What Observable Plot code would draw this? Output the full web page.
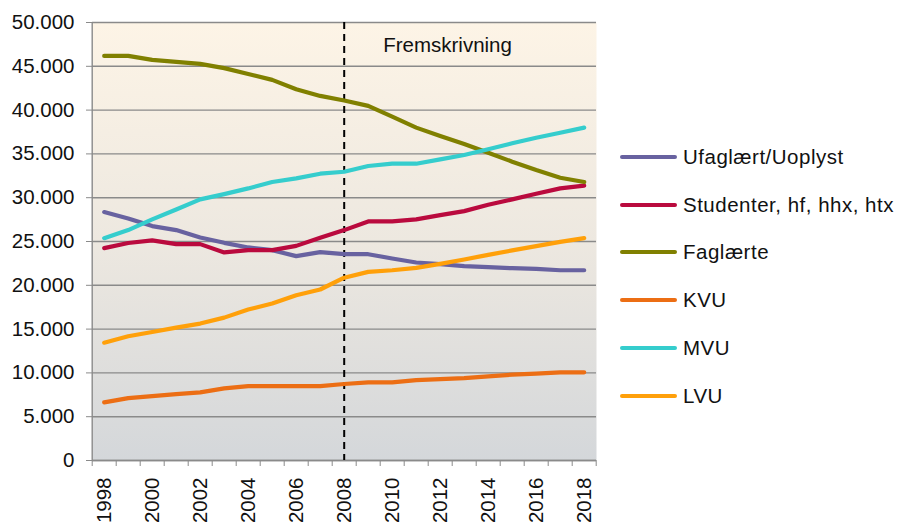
<!DOCTYPE html>
<html>
<head>
<meta charset="utf-8">
<script src="https://cdn.jsdelivr.net/npm/d3@7"></script>
<script src="https://cdn.jsdelivr.net/npm/@observablehq/plot@0.6"></script>
<style>
  html, body { margin: 0; padding: 0; background: #fff; }
  #wrap { position: relative; width: 899px; height: 522px; font-family: "Liberation Sans", Arial, sans-serif; }
  #chart { position: absolute; left: 0; top: 0; }
  #legend { position: absolute; left: 620px; top: 133px; }
  .item { display: flex; align-items: center; height: 47.8px; font-size: 20.5px; color: #111; letter-spacing: 0.5px; white-space: nowrap; }
  .swatch { width: 57px; height: 4px; border-radius: 2px; margin-right: 6px; }
</style>
</head>
<body>
<div id="wrap"><div id="chart"></div><div id="legend"></div></div>
<script>
const years = [1998,1999,2000,2001,2002,2003,2004,2005,2006,2007,2008,2009,2010,2011,2012,2013,2014,2015,2016,2017,2018];
const seriesNames = ["Ufaglært/Uoplyst", "Studenter, hf, hhx, htx", "Faglærte", "KVU", "MVU", "LVU"];
const seriesColors = ["#6862A0", "#BA0A3E", "#808000", "#EC6E14", "#35CDCD", "#FFA00A"];
const ufaglaert = [28360,27630,26760,26300,25460,24850,24320,24010,23330,23780,23550,23550,23060,22600,22410,22180,22070,21950,21880,21720,21720];
const studenter = [24240,24830,25130,24700,24700,23750,24010,24010,24500,25420,26300,27290,27290,27520,28010,28470,29190,29810,30450,31060,31370];
const faglaerte = [46190,46190,45740,45510,45280,44790,44130,43450,42380,41620,41100,40480,39250,38000,37050,36130,35140,34110,33160,32280,31790];
const kvu = [6630,7120,7350,7580,7780,8230,8500,8500,8500,8500,8730,8920,8920,9180,9300,9410,9600,9800,9910,10060,10060];
const mvu = [25380,26300,27520,28660,29810,30410,31060,31790,32210,32740,32960,33620,33880,33880,34380,34870,35530,36210,36850,37420,38000];
const lvu = [13450,14180,14670,15170,15630,16310,17230,17920,18870,19520,20870,21530,21720,21990,22450,22950,23480,23980,24470,24960,25380];
const yTicks = [0,5000,10000,15000,20000,25000,30000,35000,40000,45000,50000];
const xLabelYears = [1998,2000,2002,2004,2006,2008,2010,2012,2014,2016,2018];
const projectionStart = 2008;
const annotation = "Fremskrivning";

const allValues = [ufaglaert, studenter, faglaerte, kvu, mvu, lvu];
const rows = [];
allValues.forEach((vals, si) => vals.forEach((v, i) => rows.push({series: seriesNames[si], year: years[i], value: v})));

const xDomain = [years[0] - 0.5, years[years.length - 1] + 0.5];
const boundaries = d3.range(years.length + 1).map(i => years[0] - 0.5 + i);
const fmt = d => d3.format(",")(d).replace(/,/g, ".");

const plot = Plot.plot({
  width: 899,
  height: 522,
  marginLeft: 92,
  marginRight: 303,
  marginTop: 22,
  marginBottom: 62,
  style: { fontFamily: "'Liberation Sans', Arial, sans-serif", fontSize: "20.5px", background: "transparent", color: "#111" },
  x: { domain: xDomain, range: [91.7, 595.7] },
  y: { domain: [0, 50000] },
  color: { domain: seriesNames, range: seriesColors },
  marks: [
    Plot.frame({ fill: "url(#bgGrad)", stroke: "none" }),
    Plot.gridY(yTicks, { stroke: "#8a8a8a", strokeOpacity: 1, strokeWidth: 1.4 }),
    Plot.ruleX([xDomain[0]], { stroke: "#8a8a8a", strokeWidth: 1.4 }),
    Plot.ruleY([0], { stroke: "#8a8a8a", strokeWidth: 1.4 }),
    Plot.axisY({ ticks: yTicks, tickSize: 6, tickPadding: 12, tickFormat: fmt, stroke: "#8a8a8a", fill: "#111", label: null }),
    Plot.axisX({ ticks: boundaries, tickSize: 6, tickFormat: () => "", stroke: "#8a8a8a", label: null }),
    Plot.axisX({ ticks: xLabelYears, tickSize: 0, tickPadding: 17, tickRotate: -90, tickFormat: d => String(d), fill: "#111", label: null }),
    Plot.ruleX([projectionStart], { stroke: "#000", strokeWidth: 2, strokeDasharray: "7,5" }),
    Plot.text([annotation], { x: () => projectionStart, y: () => 50000, text: d => d, textAnchor: "start", dx: 39, dy: 23, fontSize: 20.5, fill: "#111" }),
    Plot.line(rows, { x: "year", y: "value", z: "series", stroke: "series", strokeWidth: 4.2, strokeLinejoin: "round", strokeLinecap: "round" })
  ]
});

const ns = "http://www.w3.org/2000/svg";
const defs = document.createElementNS(ns, "defs");
defs.innerHTML = '<linearGradient id="bgGrad" x1="0" y1="0" x2="0" y2="1"><stop offset="0" stop-color="#FDF4E6"/><stop offset="0.5" stop-color="#EDE8E0"/><stop offset="1" stop-color="#D4D7DA"/></linearGradient>';
plot.insertBefore(defs, plot.firstChild);
document.getElementById("chart").appendChild(plot);

const legend = document.getElementById("legend");
seriesNames.forEach((name, i) => {
  const item = document.createElement("div");
  item.className = "item";
  const sw = document.createElement("span");
  sw.className = "swatch";
  sw.style.background = seriesColors[i];
  const label = document.createElement("span");
  label.textContent = name;
  item.appendChild(sw);
  item.appendChild(label);
  legend.appendChild(item);
});
</script>
</body>
</html>
